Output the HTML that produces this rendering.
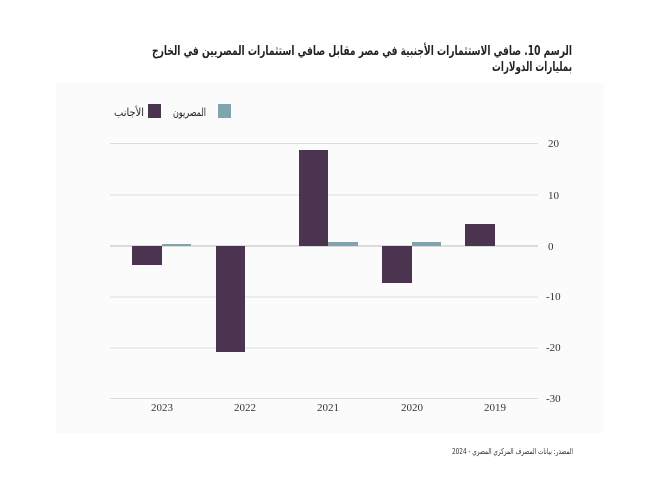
<!DOCTYPE html>
<html><head><meta charset="utf-8"><style>
body{margin:0;width:650px;height:485px;background:#fff;position:relative;overflow:hidden;font-family:"Liberation Serif","Noto Sans CJK SC",serif}
</style></head><body>
<div style="position:absolute;left:56px;top:83px;width:548px;height:350px;background:#fcfbfc"></div>
<svg width="650" height="485" style="position:absolute;left:0;top:0">
<g font-family="DejaVu Sans, sans-serif" font-weight="bold" fill="#222" font-size="13">
<text x="572" y="55" text-anchor="end" textLength="420" lengthAdjust="spacingAndGlyphs">الرسم 10. صافي الاستثمارات الأجنبية في مصر مقابل صافي استثمارات المصريين في الخارج</text>
<text x="572" y="71" text-anchor="end" textLength="80" lengthAdjust="spacingAndGlyphs">بمليارات الدولارات</text>
</g>
<g font-family="DejaVu Sans, sans-serif" font-size="11" fill="#222">
<rect x="218" y="104" width="13" height="14" fill="#7fa4ae"/>
<text x="206" y="116" text-anchor="end" textLength="33" lengthAdjust="spacingAndGlyphs">المصريون</text>
<rect x="148" y="104" width="13" height="14" fill="#4a3450"/>
<text x="144" y="116" text-anchor="end" textLength="30" lengthAdjust="spacingAndGlyphs">الأجانب</text>
</g>
<g stroke="#dcdcdc" stroke-width="1">
<line x1="110" x2="538" y1="143.5" y2="143.5"/>
<line x1="110" x2="538" y1="195" y2="195"/>
<line x1="110" x2="538" y1="297" y2="297"/>
<line x1="110" x2="538" y1="348" y2="348"/>
<line x1="110" x2="538" y1="398.5" y2="398.5"/>
</g>
<line x1="110" x2="538" y1="246" y2="246" stroke="#bbb"/>
<g fill="#4a3450">
<rect x="132" y="246" width="30" height="19"/>
<rect x="216" y="246" width="29" height="106"/>
<rect x="299" y="150" width="29" height="96"/>
<rect x="382" y="246" width="30" height="37"/>
<rect x="465" y="224" width="30" height="22"/>
</g>
<g fill="#7fa4ae">
<rect x="162" y="244" width="29" height="2"/>
<rect x="328" y="242" width="30" height="4"/>
<rect x="412" y="242" width="29" height="4"/>
</g>
<g font-size="11" fill="#333">
<text x="548" y="147">20</text><text x="548" y="199">10</text><text x="548" y="250">0</text>
<text x="546" y="300">-10</text><text x="546" y="351">-20</text><text x="546" y="402">-30</text>
</g>
<g font-size="11" fill="#333" text-anchor="middle">
<text x="162" y="411">2023</text><text x="245" y="411">2022</text><text x="328" y="411">2021</text><text x="412" y="411">2020</text><text x="495" y="411">2019</text>
</g>
<text x="573" y="454" font-family="DejaVu Sans, sans-serif" font-size="8" fill="#333" text-anchor="end" textLength="121" lengthAdjust="spacingAndGlyphs">المصدر: بيانات المصرف المركزي المصري - 2024</text>
</svg>
</body></html>
